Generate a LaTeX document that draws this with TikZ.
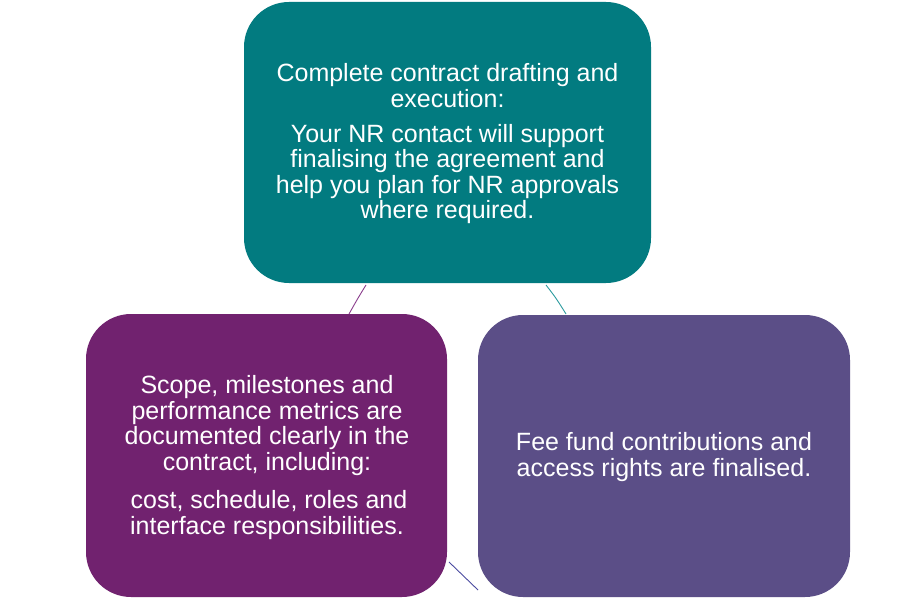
\documentclass[tikz,border=0pt]{standalone}
\usepackage{fontspec}
\setmainfont{Liberation Sans}
\definecolor{teal1}{HTML}{027B80}
\definecolor{purp1}{HTML}{71226F}
\definecolor{viol1}{HTML}{5B4E87}
\definecolor{lnpurp}{HTML}{8A3C8C}
\definecolor{lnteal}{HTML}{2E9CA0}
\definecolor{lnblue}{HTML}{4B4BA0}
\begin{document}
\begin{tikzpicture}[x=1pt,y=-1pt,
  card/.style={rounded corners=45pt, inner sep=0pt, outer sep=0pt},
  cardtext/.style={text=white, align=center, inner sep=0pt, font=\fontsize{25}{25.6}\selectfont},
  link/.style={line width=0.9pt}]
\useasboundingbox (0,0) rectangle (900,599);
\fill[white] (0,0) rectangle (900,599);
% boxes
\node[card, fill=teal1, minimum width=407pt, minimum height=281pt] (top) at (447.5,142.5) {};
\node[card, fill=purp1, minimum width=361pt, minimum height=283pt] (left) at (266.5,455.5) {};
\node[card, fill=viol1, minimum width=372pt, minimum height=282pt] (right) at (664,456) {};
% texts
\node[cardtext] (toptext) at (447.5,144) {Complete contract drafting and\\ execution:\\[9pt] Your NR contact will support\\ finalising the agreement and\\ help you plan for NR approvals\\ where required.};
\node[cardtext] (lefttext) at (267,457.5) {Scope, milestones and\\ performance metrics are\\ documented clearly in the\\ contract, including:\\[13pt] \hspace*{4pt}cost, schedule, roles and\\ interface responsibilities.};
\node[cardtext] (righttext) at (664,457) {Fee fund contributions and\\ access rights are finalised.};
% connectors
\coordinate (c1a) at (366,285);
\coordinate (c1b) at (349,314);
\coordinate (c2a) at (546,285);
\coordinate (c2b) at (566,314);
\coordinate (c3a) at (449,562);
\coordinate (c3b) at (478,590);
\draw[link, lnpurp] (c1a) .. controls (358,298) .. (c1b);
\draw[link, lnteal] (c2a) .. controls (556,298) .. (c2b);
\draw[link, lnblue] (c3a) -- (c3b);
\end{tikzpicture}
\end{document}
